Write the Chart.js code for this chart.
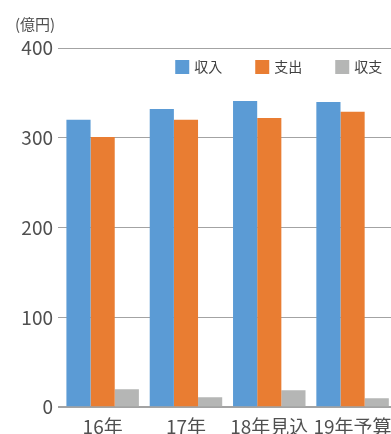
<!DOCTYPE html>
<html lang="ja">
<head>
  <meta charset="UTF-8" />
  <title>収入・支出・収支</title>
  <script src="https://cdn.jsdelivr.net/npm/chart.js"></script>
  <style>
    html, body {
      margin: 0;
      padding: 0;
      background: #ffffff;
      overflow: hidden;
    }
    .wrap {
      width: 400px;
      height: 446px;
    }
  </style>
</head>
<body>
  <div class="wrap">
    <canvas id="barChart"></canvas>
  </div>

  <script>
    const categories = ['16年', '17年', '18年見込', '19年予算'];
    const incomeValues = [320, 332, 341, 340];
    const expenseValues = [301, 320, 322, 329];
    const balanceValues = [20, 11, 19, 10];
    const yTicks = [0, 100, 200, 300, 400];

    const fontFamily = '"Noto Sans CJK JP", "Noto Sans", sans-serif';

    // legend drawn inside the plot area, right aligned, in one row
    const innerLegend = {
      id: 'innerLegend',
      afterDraw(chart) {
        const ctx = chart.ctx;
        const area = chart.chartArea;
        const box = 14, gap = 5, spacing = 33;
        ctx.save();
        ctx.font = '14px ' + fontFamily;
        ctx.textBaseline = 'middle';
        const items = chart.data.datasets.map(ds => ({
          label: ds.label,
          color: ds.backgroundColor,
          w: box + gap + ctx.measureText(ds.label).width
        }));
        const total = items.reduce((s, it) => s + it.w, 0) + spacing * (items.length - 1);
        let x = area.right - 12 - total;
        const yMid = area.top + 19;
        items.forEach(it => {
          ctx.fillStyle = it.color;
          ctx.fillRect(x, yMid - box / 2, box, box);
          ctx.fillStyle = '#404040';
          ctx.fillText(it.label, x + box + gap, yMid);
          x += it.w + spacing;
        });
        ctx.restore();
      }
    };

    new Chart(document.getElementById('barChart'), {
      type: 'bar',
      data: {
        labels: categories,
        datasets: [
          { label: '収入', data: incomeValues, backgroundColor: '#5b9bd5' },
          { label: '支出', data: expenseValues, backgroundColor: '#e97d32' },
          { label: '収支', data: balanceValues, backgroundColor: '#b5b6b5' }
        ]
      },
      options: {
        responsive: true,
        maintainAspectRatio: false,
        animation: false,
        datasets: {
          bar: { categoryPercentage: 0.87, barPercentage: 1.0 }
        },
        layout: { padding: { left: 15, right: 3, top: 0, bottom: 0 } },
        plugins: {
          title: {
            display: true,
            text: '(億円)',
            align: 'start',
            color: '#505050',
            font: { family: fontFamily, size: 15, weight: 'normal' },
            padding: { top: 15, bottom: 15 }
          },
          legend: { display: false },
          tooltip: { enabled: false }
        },
        scales: {
          x: {
            grid: { display: false, drawTicks: false },
            border: { display: false },
            ticks: {
              padding: 8,
              maxRotation: 0,
              minRotation: 0,
              autoSkip: false,
              color: '#505050',
              font: { family: fontFamily, size: 19 }
            }
          },
          y: {
            min: 0,
            max: 400,
            afterFit: scale => { scale.width = 46; },
            afterBuildTicks: scale => {
              scale.ticks = yTicks.map(v => ({ value: v }));
            },
            border: { display: false },
            grid: {
              color: '#a3a3a3',
              lineWidth: ctx => (ctx.tick && ctx.tick.value === 0 ? 2 : 1),
              tickLength: 3
            },
            ticks: {
              padding: 5,
              color: '#505050',
              font: { family: fontFamily, size: 19 }
            }
          }
        }
      },
      plugins: [innerLegend]
    });
  </script>
</body>
</html>
